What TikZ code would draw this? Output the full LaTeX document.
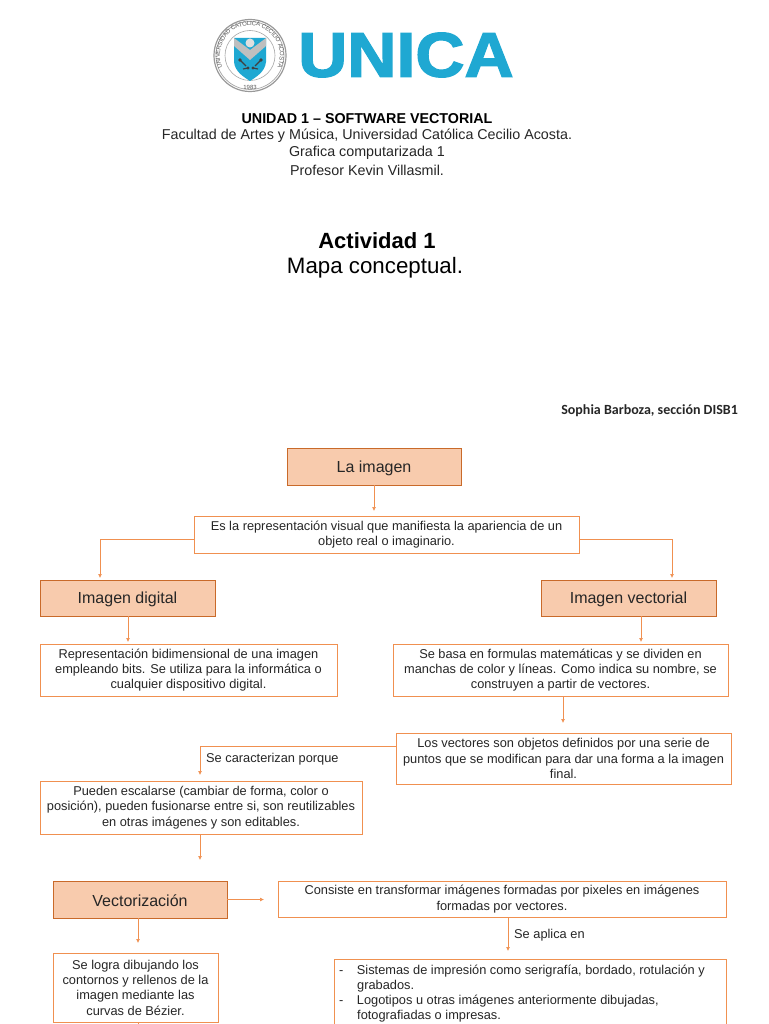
\documentclass[tikz,border=0pt]{standalone}
\usepackage{fontspec}
\setmainfont{Liberation Sans}
\newfontfamily\sophiafont{Carlito}
\newfontfamily\unicafont[FakeBold=2.2,FakeStretch=1.08]{Liberation Sans Bold}
\usetikzlibrary{arrows.meta,decorations.text}
\definecolor{orl}{HTML}{ED7D31}
\definecolor{orf}{HTML}{F8CBAD}
\definecolor{unicab}{HTML}{1FA8D2}
\definecolor{txt}{HTML}{262626}
\tikzset{
  base/.style={anchor=north west,inner sep=0pt,outer sep=0pt,align=center,text=txt},
  headbox/.style={base,draw=orl!85!black,line width=0.9pt,fill=orf,font=\fontsize{16}{18}\selectfont,text height=15pt},
  textbox/.style={base,draw=orl!85,line width=0.9pt,fill=white,font=\fontsize{12.8}{15.3}\selectfont,execute at begin node={\rule{0pt}{12pt}}},
  conn/.style={draw=orl!85,line width=0.7pt,-{Latex[length=4pt,width=4pt]}},
  lab/.style={anchor=west,inner sep=0pt,text=txt,font=\fontsize{12.8}{15}\selectfont},
  title/.style={anchor=center,inner sep=0pt,text=black,align=center}
}
\newcommand{\bx}[7]{\node[#1,minimum width=#5pt-#3pt,minimum height=#6pt-#4pt] (#2) at (#3,#4) {#7};}
\begin{document}
\begin{tikzpicture}[x=1pt,y=-1pt]
\useasboundingbox (0,0) rectangle (768,1024);
\fill[white] (0,0) rectangle (768,1024);
% logo
\fill[white] (250,55.5) circle (36);
\draw[gray!80,line width=1.2pt] (250,55.5) circle (36);
\draw[gray!70,line width=0.7pt] (250,55.5) circle (34);
\draw[gray!70,line width=0.6pt] (250,55.5) circle (25);
\path[postaction={decorate,decoration={text along path,raise=-1.5pt,text align=center,
  text={|\fontsize{6}{6}\selectfont\color{black!65}|UNIVERSIDAD CATOLICA CECILIO ACOSTA}}}]
  (223.5,72.5) arc (147:393:31.5);
\node[inner sep=0pt,text=black!65,font=\fontsize{6}{6}\selectfont] (sealyear) at (250,87) {1983};
\fill[unicab] (234,38) -- (266,38) -- (266,62) .. controls (265,72) and (256,77) .. (250,81) .. controls (244,77) and (235,72) .. (234,62) -- cycle;
\fill[gray!50] (234,38) -- (250,50) -- (266,38) -- (266,46) -- (250,60) -- (234,46) -- cycle;
\fill[gray!25] (250,43) circle (4.5);
\draw[black!75,line width=1.1pt] (240,60) -- (246,66) (261,60) -- (255,66) (243,69) -- (248,68) (258,69) -- (253,68);
\fill[black!75] (240,60) circle (1.8) (261,60) circle (1.8) (248,68) circle (1.6) (253,68) circle (1.6);
\node[anchor=west,inner sep=0pt,text=unicab,font=\unicafont\fontsize{63}{64}\selectfont] (unica) at (298,55) {UNICA};
% titles
\node[title,font=\fontsize{14.3}{15}\selectfont\bfseries] (t1) at (367,118.5) {UNIDAD 1 – SOFTWARE VECTORIAL};
\node[title,font=\fontsize{14.3}{16}\selectfont,text=txt] (t2) at (367,136) {Facultad de Artes y Música, Universidad Católica Cecilio Acosta.};
\node[title,font=\fontsize{14.3}{16}\selectfont,text=txt] (t3) at (367,153) {Grafica computarizada 1};
\node[title,font=\fontsize{14.3}{16}\selectfont,text=txt] (t4) at (367,170) {Profesor Kevin Villasmil.};
\node[title,font=\fontsize{22}{24}\selectfont\bfseries] (t5) at (377,241) {Actividad 1};
\node[title,font=\fontsize{22.3}{24}\selectfont] (t6) at (375,268) {Mapa conceptual.};
\node[anchor=east,inner sep=0pt,text=txt,font=\sophiafont\fontsize{14}{16}\selectfont\bfseries] (autor) at (738,411) {Sophia Barboza, sección DISB1};
% boxes
\bx{headbox}{imagen}{287}{448}{461}{485}{La imagen}
\bx{textbox}{def}{194}{516}{579}{553}{Es la representación visual que manifiesta la apariencia de un\\objeto real o imaginario.}
\bx{headbox}{digital}{40}{580}{215}{616}{Imagen digital}
\bx{headbox}{vectorial}{541}{580}{716}{616}{Imagen vectorial}
\bx{textbox}{repr}{40}{644}{337}{696}{Representación bidimensional de una imagen\\empleando bits. Se utiliza para la informática o\\cualquier dispositivo digital.}
\bx{textbox}{basa}{393}{644}{728}{696}{Se basa en formulas matemáticas y se dividen en\\manchas de color y líneas. Como indica su nombre, se\\construyen a partir de vectores.}
\bx{textbox}{vecs}{396}{733}{731}{784}{Los vectores son objetos definidos por una serie de\\puntos que se modifican para dar una forma a la imagen\\final.}
\bx{textbox}{pueden}{40}{781}{362}{834}{Pueden escalarse (cambiar de forma, color o\\posición), pueden fusionarse entre si, son reutilizables\\en otras imágenes y son editables.}
\bx{headbox}{vectz}{53}{881}{227}{918}{Vectorización}
\bx{textbox}{consiste}{278}{881}{726}{917}{Consiste en transformar imágenes formadas por pixeles en imágenes\\formadas por vectores.}
\bx{textbox}{logra}{53}{953}{218}{1022}{Se logra dibujando los\\contornos y rellenos de la\\imagen mediante las\\curvas de Bézier.}
\draw[orl!85,line width=0.9pt,fill=white] (334,1030) -- (334,959) -- (726,959) -- (726,1030);
\node[anchor=north west,inner sep=0pt,text=txt,align=left,font=\fontsize{12.8}{15.1}\selectfont] (sis) at (339,965) {-\hspace{13.5pt}Sistemas de impresión como serigrafía, bordado, rotulación y\\\hspace{18pt}grabados.\\-\hspace{13.5pt}Logotipos u otras imágenes anteriormente dibujadas,\\\hspace{18pt}fotografiadas o impresas.};
% free ends
\coordinate (a1) at (374,511);
\coordinate (a2) at (100,578);
\coordinate (a3) at (672,578);
\coordinate (a4) at (128,642);
\coordinate (a5) at (641,642);
\coordinate (a6) at (563,723);
\coordinate (a7) at (200,775);
\coordinate (a8) at (200,860);
\coordinate (a9) at (264,899.5);
\coordinate (a10) at (138,943);
\coordinate (a11) at (508,951);
\coordinate (a12) at (138,1030);
\coordinate (e1) at (0,539);
\coordinate (e2) at (0,746);
% connectors
\draw[conn] (imagen.south -| a1) -- (a1);
\draw[conn] (def.west |- e1) -| (a2);
\draw[conn] (def.east |- e1) -| (a3);
\draw[conn] (digital.south -| a4) -- (a4);
\draw[conn] (vectorial.south -| a5) -- (a5);
\draw[conn] (basa.south -| a6) -- (a6);
\draw[conn] (vecs.west |- e2) -| (a7);
\draw[conn] (pueden.south -| a8) -- (a8);
\draw[conn] (vectz.east |- a9) -- (a9);
\draw[conn] (vectz.south -| a10) -- (a10);
\draw[conn] (consiste.south -| a11) -- (a11);
\draw[draw=orl!85,line width=0.7pt] (logra.south -| a12) -- (a12);
\node[lab] (l1) at (206,759) {Se caracterizan porque};
\node[lab] (l2) at (514,935) {Se aplica en};
\end{tikzpicture}
\end{document}
